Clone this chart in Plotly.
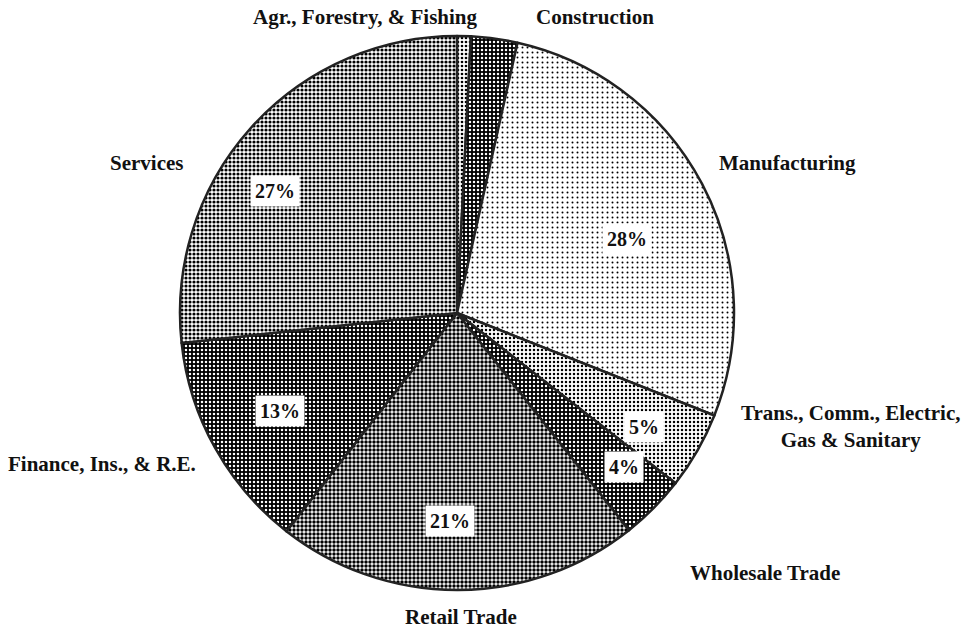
import math
import plotly.graph_objects as go

# ---- data ----
sectors = ["Agr., Forestry, & Fishing", "Construction", "Manufacturing",
           "Trans., Comm., Electric, Gas & Sanitary", "Wholesale Trade",
           "Retail Trade", "Finance, Ins., & R.E.", "Services"]
shares = [0.8, 2.7, 27.5, 4.5, 3.8, 21.2, 12.7, 26.7]
pct_labels = ["", "", "28%", "5%", "4%", "21%", "13%", "27%"]

# ---- styles ----
W, H = 968, 630
CX, CY, R = 457, 313, 277          # pie centre / radius in pixels
SERIF = "Liberation Serif, Times New Roman, serif"

pat_bg = ["white", "black", "white", "white", "black", "white", "black", "white"]
pat_fg = ["black", "white", "black", "black", "white", "black", "white", "black"]
pat_size = [4, 4, 5, 4, 4, 4, 4, 4]
pat_solid = [0.35, 0.3, 0.12, 0.3, 0.3, 0.6, 0.32, 0.5]

# label placement tweaks (radial fraction, angle nudge in degrees)
lab_r = [0.75, 0.75, 0.67, 0.79, 0.82, 0.75, 0.73, 0.79]
lab_da = [0, 0, 4.5, 1.5, -2, 2, 0, -8]

fig = go.Figure(go.Pie(
    labels=sectors, values=shares, sort=False, direction="clockwise",
    rotation=0, textinfo="none", hoverinfo="label+percent",
    showlegend=False,
    domain=dict(x=[(CX - R) / W, (CX + R) / W],
                y=[(H - CY - R) / H, (H - CY + R) / H]),
    marker=dict(
        colors=pat_bg,
        line=dict(color="#222", width=2.5),
        pattern=dict(shape=["."] * len(shares), bgcolor=pat_bg, fgcolor=pat_fg,
                     size=pat_size, solidity=pat_solid, fgopacity=1),
    ),
))

# percentage labels computed from slice angles
total = sum(shares)
cum = 0.0
annotations = []
for i, v in enumerate(shares):
    start = cum / total * 360
    cum += v
    end = cum / total * 360
    if pct_labels[i]:
        a = math.radians((start + end) / 2 + lab_da[i])
        r = lab_r[i] * R
        px = CX + r * math.sin(a)
        py = (H - CY) + r * math.cos(a)
        annotations.append(dict(
            x=px / W, y=py / H, xref="paper", yref="paper", showarrow=False,
            xanchor="center", yanchor="middle",
            text="<b>" + pct_labels[i] + "</b>", bgcolor="white", borderpad=4,
            font=dict(family=SERIF, size=20, color="#111"), ))

# category labels
outer = [
    ("Agr., Forestry, & Fishing", 365, 17),
    ("Construction", 595, 17),
    ("Manufacturing", 787, 163),
    ("Trans., Comm., Electric,<br>Gas & Sanitary", 850, 426),
    ("Wholesale Trade", 765, 573),
    ("Retail Trade", 461, 617),
    ("Finance, Ins., & R.E.", 102, 464),
    ("Services", 146, 163),
]
for t, x, y in outer:
    annotations.append(dict(
        x=x / W, y=1 - y / H, xref="paper", yref="paper", showarrow=False,
        xanchor="center", yanchor="middle",
        text="<b>" + t + "</b>", align="center",
        font=dict(family=SERIF, size=21, color="#111")))

fig.update_layout(
    width=W, height=H, margin=dict(l=0, r=0, t=0, b=0),
    paper_bgcolor="white", plot_bgcolor="white",
    annotations=annotations,
)
fig.write_html("out.html", config={"displayModeBar": False},
               post_script="document.body.style.margin='0';document.body.style.overflow='hidden';")
